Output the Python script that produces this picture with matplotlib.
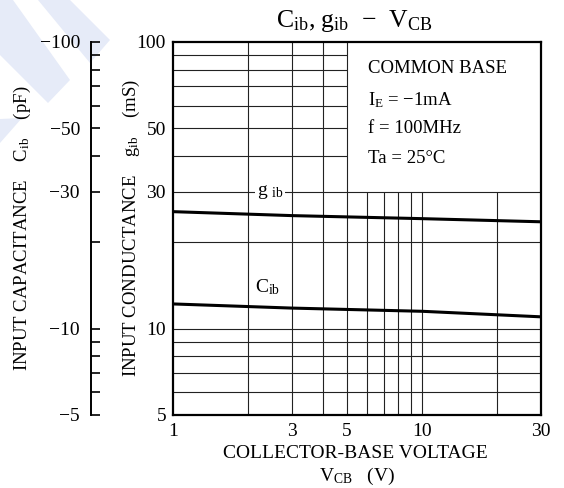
import matplotlib.pyplot as plt
from matplotlib.ticker import NullLocator, FixedLocator, NullFormatter
from matplotlib.patches import Polygon

plt.rcParams['font.family'] = ['Liberation Serif', 'DejaVu Serif']
plt.rcParams['mathtext.fontset'] = 'custom'
plt.rcParams['mathtext.rm'] = 'Liberation Serif'
plt.rcParams['mathtext.it'] = 'Liberation Serif'

# curves
vcb = [1, 3, 10, 30]
gib = [25.6, 24.8, 24.2, 23.6]
cib = [12.2, 11.8, 11.5, 11.0]

x_ticks = [1, 3, 5, 10, 30]
y_ticks = [5, 10, 30, 50, 100]
cib_labels = ['\u22125', '\u221210', '\u221230', '\u221250', '\u2212100']
cib_minor = [6, 7, 8, 9, 20, 40, 60, 70, 80, 90]

# chart grid (the condition box in the upper right has no grid)
grid_h_full = [6, 7, 8, 9, 10, 20, 30]
grid_h_left = [40, 50, 60, 70, 80, 90]
grid_v_full = [2, 3, 4, 5]
grid_v_low = [6, 7, 8, 9, 10, 20]

conditions = ['COMMON BASE', 'I$_{\\mathrm{E}}$ = \u22121mA', 'f = 100MHz', 'Ta = 25\u00b0C']

W, H = 564, 488
fig = plt.figure(figsize=(W / 100, H / 100), dpi=100)


def px(x, y):
    return (x / W, 1 - y / H)


# watermark in the corner
wm = '#e6ebf8'
for pts in ([(38, 0), (70, 0), (110, 40), (90, 63)],
            [(0, 0), (13, 0), (70, 80), (48, 103), (0, 55)],
            [(0, 119), (22, 118), (0, 143)]):
    fig.patches.append(Polygon([px(*p) for p in pts], closed=True, facecolor=wm,
                               edgecolor='none', transform=fig.transFigure, zorder=-5))

ax = fig.add_axes([173 / W, 1 - 415 / H, 368 / W, 373 / H])
ax.set_xscale('log')
ax.set_yscale('log')
ax.set_xlim(1, 30)
ax.set_ylim(5, 100)

gkw = dict(color='#222222', lw=0.8, zorder=1)
ax.hlines(grid_h_full, 1, 30, **gkw)
ax.hlines(grid_h_left, 1, 5, **gkw)
ax.vlines(grid_v_full, 5, 100, **gkw)
ax.vlines(grid_v_low, 5, 30, **gkw)

ax.plot(vcb, gib, color='black', lw=2.2, zorder=3)
ax.plot(vcb, cib, color='black', lw=2.2, zorder=3)

ax.text(2.45, 30, r'g $_{\mathrm{ib}}$', fontsize=14, ha='center', va='center', zorder=4,
        bbox=dict(facecolor='white', edgecolor='none', pad=1))
ax.text(2.4, 14.0, r'C$_{\mathrm{ib}}$', fontsize=14, ha='center', va='center', zorder=4)

for txt, yy in zip(conditions, [0.928, 0.845, 0.769, 0.689]):
    ax.text(0.53, yy, txt, transform=ax.transAxes, fontsize=13.5, ha='left', va='center')

ax.xaxis.set_major_locator(FixedLocator(x_ticks))
ax.xaxis.set_minor_locator(NullLocator())
ax.set_xticklabels([str(v) for v in x_ticks])
ax.yaxis.set_major_locator(FixedLocator(y_ticks))
ax.yaxis.set_minor_locator(NullLocator())
ax.set_yticklabels([str(v) for v in y_ticks])
ax.tick_params(axis='x', length=0, labelsize=14, pad=6)
ax.tick_params(axis='y', length=0, labelsize=14, pad=5)
for s in ax.spines.values():
    s.set_linewidth(1.6)

# separate capacitance scale on the far left
ax2 = fig.add_axes([91 / W, 1 - 415 / H, 0.0001, 373 / H])
ax2.patch.set_visible(False)
for k in ('top', 'right', 'bottom'):
    ax2.spines[k].set_visible(False)
ax2.spines['left'].set_linewidth(1.4)
ax2.set_yscale('log')
ax2.set_ylim(5, 100)
ax2.set_xticks([])
ax2.yaxis.set_major_locator(FixedLocator(y_ticks))
ax2.set_yticklabels(cib_labels)
ax2.yaxis.set_minor_locator(FixedLocator(cib_minor))
ax2.yaxis.set_minor_formatter(NullFormatter())
ax2.tick_params(axis='y', which='both', direction='in', length=6.5, width=1.2,
                labelsize=14, pad=8)

fig.text(*px(22, 228), 'INPUT CAPACITANCE    C$_{\\mathrm{ib}}$    (pF)', rotation=90,
         ha='center', va='center', fontsize=13.5)
fig.text(*px(131, 228), 'INPUT CONDUCTANCE    g$_{\\mathrm{ib}}$    (mS)', rotation=90,
         ha='center', va='center', fontsize=13.5)
fig.text(*px(354, 21), 'C$_{\\mathrm{ib}}$, g$_{\\mathrm{ib}}$  \u2212  V$_{\\mathrm{CB}}$',
         ha='center', va='center', fontsize=18.5)
fig.text(*px(355, 453), 'COLLECTOR-BASE VOLTAGE', ha='center', va='center', fontsize=14)
fig.text(*px(357, 476), 'V$_{\\mathrm{CB}}$   (V)', ha='center', va='center', fontsize=14)

fig.savefig('out.png', dpi=100)
